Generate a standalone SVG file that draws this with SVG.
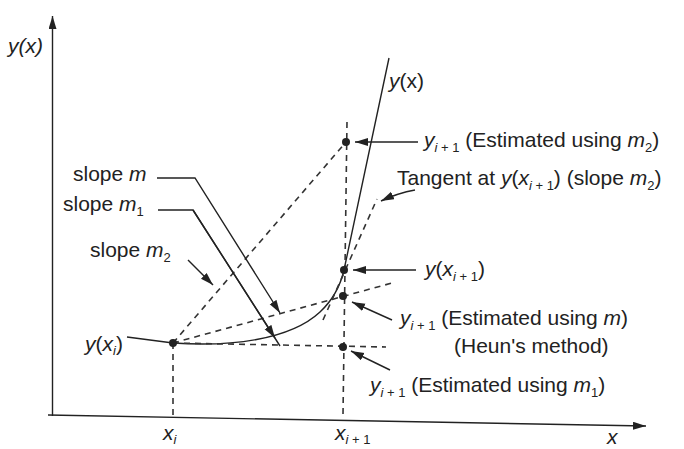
<svg xmlns="http://www.w3.org/2000/svg" width="684" height="449" viewBox="0 0 684 449">
<style>
.t{font-family:"Liberation Sans",Arial,sans-serif;font-size:21px;fill:#222}
.s{font-size:13px}
.i{font-style:italic}
.ln{fill:none;stroke:#222;stroke-width:1.4}
.ds{fill:none;stroke:#333;stroke-width:1.6;stroke-dasharray:6 5}
.dot{fill:#222}
</style>
<defs>
<marker id="ah" markerUnits="userSpaceOnUse" markerWidth="14" markerHeight="10" refX="13" refY="4" orient="auto">
<path d="M0,0 L13,4 L0,8 Z" fill="#222"/>
</marker>
</defs>
<rect width="684" height="449" fill="#fff"/>
<g id="axes">
<line class="ln" x1="52.5" y1="416" x2="52.5" y2="16" marker-end="url(#ah)"/>
<line class="ln" x1="48" y1="415" x2="646" y2="426" marker-end="url(#ah)"/>
<text class="t i" x="8" y="53" font-size="20">y(x)</text>
<text class="t i" x="607" y="444">x</text>
</g>
<g id="curve">
<path class="ln" d="M127,337 L173,343 C230,347 290,340 320,312 C335,298 341,283 344,270 L389,58"/>
<text class="t" x="389" y="88" font-size="20"><tspan class="i">y</tspan>(x)</text>
</g>
<g id="guides">
<line class="ds" x1="173" y1="343" x2="173" y2="415"/>
<line class="ds" x1="347" y1="122" x2="343" y2="415"/>
<line class="ds" x1="173" y1="343" x2="346" y2="142"/>
<line class="ds" x1="173" y1="343" x2="392" y2="283"/>
<line class="ds" x1="173" y1="343" x2="386" y2="347"/>
<line class="ds" x1="323" y1="320" x2="377" y2="199"/>
</g>
<g id="xi">
<circle class="dot" cx="173" cy="343" r="4"/>
<text class="t" x="85" y="351"><tspan class="i">y</tspan>(<tspan class="i">x</tspan><tspan class="s i" dy="4">i</tspan><tspan dy="-4">)</tspan></text>
<text class="t i" x="163" y="440">x<tspan class="s" dy="4">i</tspan></text>
<text class="t" x="335" y="440"><tspan class="i">x</tspan><tspan class="s" dy="4"><tspan class="i">i</tspan> + 1</tspan></text>
</g>
<g id="p-m2">
<circle class="dot" cx="346" cy="142" r="4"/>
<text class="t" x="424" y="147"><tspan class="i">y</tspan><tspan class="s" dy="5"><tspan class="i">i</tspan> + 1</tspan><tspan dy="-5"> (Estimated using </tspan><tspan class="i">m</tspan><tspan class="s" dy="5">2</tspan><tspan dy="-5">)</tspan></text>
</g>
<g id="tangent">
<text class="t" x="397" y="185">Tangent at <tspan class="i">y</tspan>(<tspan class="i">x</tspan><tspan class="s" dy="5"><tspan class="i">i</tspan> + 1</tspan><tspan dy="-5">) (slope </tspan><tspan class="i">m</tspan><tspan class="s" dy="5">2</tspan><tspan dy="-5">)</tspan></text>
</g>
<g id="p-exact">
<circle class="dot" cx="344" cy="270" r="4"/>
<text class="t" x="425" y="276"><tspan class="i">y</tspan>(<tspan class="i">x</tspan><tspan class="s" dy="5"><tspan class="i">i</tspan> + 1</tspan><tspan dy="-5">)</tspan></text>
</g>
<g id="p-heun">
<circle class="dot" cx="343" cy="296" r="4"/>
<text class="t" x="400" y="325"><tspan class="i">y</tspan><tspan class="s" dy="5"><tspan class="i">i</tspan> + 1</tspan><tspan dy="-5"> (Estimated using </tspan><tspan class="i">m</tspan>)</text>
<text class="t" x="454" y="353">(Heun's method)</text>
</g>
<g id="p-m1">
<circle class="dot" cx="343" cy="347" r="4"/>
<text class="t" x="370" y="392"><tspan class="i">y</tspan><tspan class="s" dy="5"><tspan class="i">i</tspan> + 1</tspan><tspan dy="-5"> (Estimated using </tspan><tspan class="i">m</tspan><tspan class="s" dy="5">1</tspan><tspan dy="-5">)</tspan></text>
</g>
<g id="slope-labels">
<text class="t" x="73" y="181">slope <tspan class="i">m</tspan></text>
<text class="t" x="63" y="211">slope <tspan class="i">m</tspan><tspan class="s" dy="5">1</tspan></text>
<text class="t" x="90" y="257">slope <tspan class="i">m</tspan><tspan class="s" dy="5">2</tspan></text>
</g>
<g id="connectors">
<polyline class="ln" points="157,178 195,178 280,313" marker-end="url(#ah)"/>
<polyline class="ln" points="158,210 193,210 280,346"/>
<line class="ln" x1="193" y1="210" x2="275" y2="338" marker-end="url(#ah)"/>
<line class="ln" x1="188" y1="260" x2="213" y2="285" marker-end="url(#ah)"/>
<line class="ln" x1="418" y1="142" x2="355" y2="142" marker-end="url(#ah)"/>
<path class="ln" d="M415,190 Q398,193 381,201" marker-end="url(#ah)"/>
<line class="ln" x1="416" y1="270" x2="353" y2="270" marker-end="url(#ah)"/>
<line class="ln" x1="392" y1="320" x2="352" y2="302" marker-end="url(#ah)"/>
<line class="ln" x1="390" y1="370" x2="351" y2="351" marker-end="url(#ah)"/>
</g>
</svg>
